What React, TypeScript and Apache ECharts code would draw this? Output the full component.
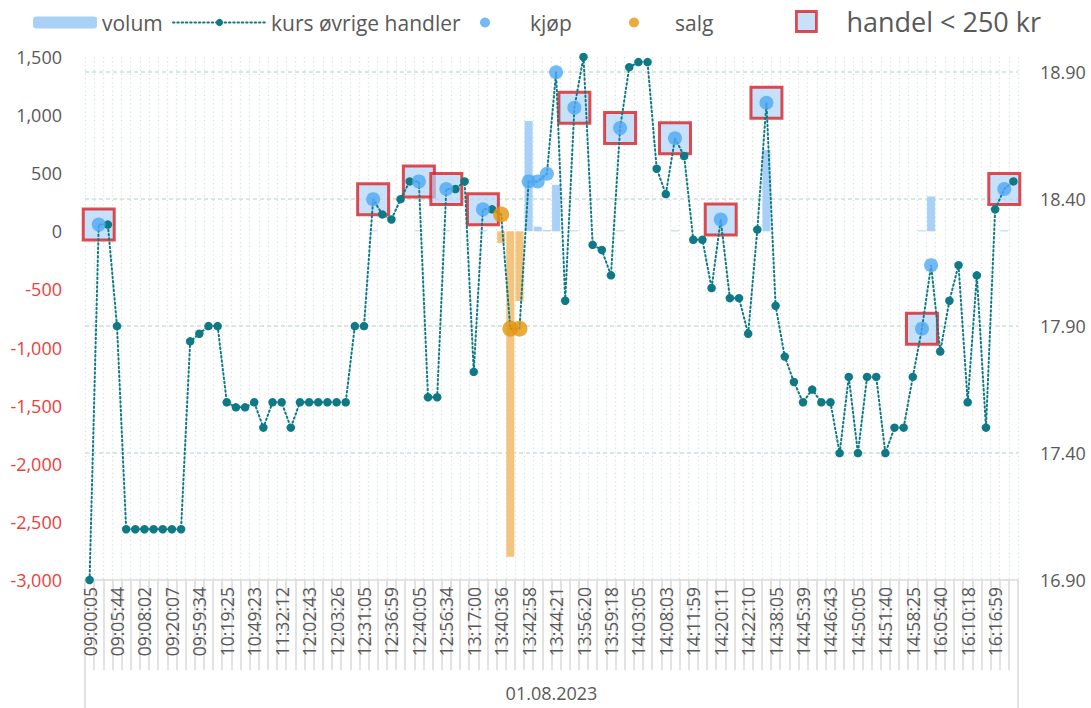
import React, { useEffect, useRef } from "react";
import * as echarts from "echarts";

// Tick labels shown on the category axis (every third trade)
const tickLabels = [
  "09:00:05", "09:05:44", "09:08:02", "09:20:07", "09:59:34", "10:19:25", "10:49:23",
  "11:32:12", "12:02:43", "12:03:26", "12:31:05", "12:36:59", "12:40:05", "12:56:34",
  "13:17:00", "13:40:36", "13:42:58", "13:44:21", "13:56:20", "13:59:18", "14:03:05",
  "14:08:03", "14:11:59", "14:20:11", "14:22:10", "14:38:05", "14:45:39", "14:46:43",
  "14:50:05", "14:51:40", "14:58:25", "16:05:40", "16:10:18", "16:16:59",
];
const dateLabel = "01.08.2023";

// Trade price for every trade (kurs)
const prices = [
  16.90, 18.30, 18.30, 17.90, 17.10, 17.10, 17.10, 17.10, 17.10, 17.10,
  17.10, 17.84, 17.87, 17.90, 17.90, 17.60, 17.58, 17.58, 17.60, 17.50,
  17.60, 17.60, 17.50, 17.60, 17.60, 17.60, 17.60, 17.60, 17.60, 17.90,
  17.90, 18.40, 18.34, 18.32, 18.40, 18.47, 18.47, 17.62, 17.62, 18.44,
  18.44, 18.47, 17.72, 18.36, 18.36, 18.34, 17.89, 17.89, 18.47, 18.47,
  18.50, 18.90, 18.00, 18.76, 18.96, 18.22, 18.20, 18.10, 18.68, 18.92,
  18.94, 18.94, 18.52, 18.42, 18.64, 18.57, 18.24, 18.24, 18.05, 18.32,
  18.01, 18.01, 17.87, 18.28, 18.78, 17.98, 17.78, 17.68, 17.60, 17.65,
  17.60, 17.60, 17.40, 17.70, 17.40, 17.70, 17.70, 17.40, 17.50, 17.50,
  17.70, 17.89, 18.14, 17.80, 18.00, 18.14, 17.60, 18.10, 17.50, 18.36,
  18.44, 18.47,
];

// Trade type: o = øvrige handler, k = kjøp, b = kjøp (handel < 250 kr), s = salg
const tradeTypes = [
  "o", "b", "o", "o", "o", "o", "o", "o", "o", "o",
  "o", "o", "o", "o", "o", "o", "o", "o", "o", "o",
  "o", "o", "o", "o", "o", "o", "o", "o", "o", "o",
  "o", "b", "o", "o", "o", "o", "b", "o", "o", "b",
  "o", "o", "o", "b", "o", "s", "s", "s", "k", "k",
  "k", "k", "o", "b", "o", "o", "o", "o", "b", "o",
  "o", "o", "o", "o", "b", "o", "o", "o", "o", "b",
  "o", "o", "o", "o", "b", "o", "o", "o", "o", "o",
  "o", "o", "o", "o", "o", "o", "o", "o", "o", "o",
  "o", "b", "k", "o", "o", "o", "o", "o", "o", "o",
  "b", "o",
];

// Volume (positive = kjøp, negative = salg)
const volumes = [
  0, 8, 0, 0, 0, 0, 0, 0, 0, 0,
  0, 0, 0, 0, 0, 0, 0, 0, 0, 0,
  0, 0, 0, 0, 0, 0, 0, 0, 0, 0,
  0, 8, 0, 0, 0, 0, 8, 0, 0, 8,
  0, 0, 0, 8, 0, -100, -2800, -600, 950, 40,
  10, 400, 0, 8, 0, 0, 0, 0, 8, 0,
  0, 0, 0, 0, 8, 0, 0, 0, 0, 8,
  0, 0, 0, 0, 700, 0, 0, 0, 0, 0,
  0, 0, 0, 0, 0, 0, 0, 0, 0, 0,
  0, 8, 300, 0, 0, 0, 0, 0, 0, 0,
  8, 0,
];

const volumeTicks = { min: -3000, max: 1500, interval: 500 };
const priceTicks = { min: 16.9, max: 18.96, interval: 0.5 };

const FONT = "Open Sans";
const GREY = "#595959";
const RED = "#E8413C";
const TEAL = "#0F7A86";
const BLUE_DOT = "#4EA9F4";
const ORANGE_DOT = "#E5960E";
const BLUE_BAR = "#A9D0F6";
const ORANGE_BAR = "#F2C47E";
const BOX_FILL = "rgba(176, 213, 248, 0.88)";
const BOX_BORDER = "#DA1F25";

export default function App() {
  const ref = useRef<HTMLDivElement>(null);

  useEffect(() => {
    if (!ref.current) return;
    const chart = echarts.init(ref.current, null, { renderer: "svg" });

    const categories = prices.map((_, i) =>
      i % 3 === 0 ? tickLabels[i / 3] : `${tickLabels[Math.floor(i / 3)]}#${i % 3}`
    );

    const lineData = prices.map((p, i) =>
      tradeTypes[i] === "o" ? p : { value: p, symbol: "none" }
    );
    const buyData = prices.map((p, i) =>
      tradeTypes[i] === "k" || tradeTypes[i] === "b" ? p : "-"
    );
    const sellData = prices.map((p, i) => (tradeTypes[i] === "s" ? p : "-"));
    const smallData = prices.map((p, i) => (tradeTypes[i] === "b" ? p : "-"));
    const barData = volumes.map((v) => ({
      value: v,
      itemStyle: { color: v < 0 ? ORANGE_BAR : BLUE_BAR },
    }));

    const legendText = { fontFamily: FONT, fontSize: 21, color: GREY };
    const legendBase = { top: 12, padding: 0, selectedMode: false };

    chart.setOption({
      animation: false,
      backgroundColor: "#ffffff",
      textStyle: { fontFamily: FONT },
      legend: [
        { ...legendBase, data: ["volum"], left: 33, itemWidth: 64, itemHeight: 12, textStyle: legendText },
        { ...legendBase, data: ["kurs øvrige handler"], left: 172, itemWidth: 93, itemHeight: 9, textStyle: legendText },
        { ...legendBase, data: ["kjøp"], left: 480, itemWidth: 80, itemHeight: 10, textStyle: legendText },
        { ...legendBase, data: ["salg"], left: 629, itemWidth: 72, itemHeight: 10, textStyle: legendText },
        {
          ...legendBase,
          top: 8,
          data: [{ name: "handel < 250 kr", itemStyle: { borderWidth: 2.8, borderColor: BOX_BORDER } }],
          left: 795, itemWidth: 20, itemHeight: 20,
          textStyle: { ...legendText, fontSize: 27, padding: [0, 0, 0, 25] },
        },
      ],
      grid: { left: 85, right: 73, top: 57, bottom: 128 },
      xAxis: [
        {
          type: "category",
          data: categories,
          boundaryGap: true,
          axisLine: { show: true, onZero: false, lineStyle: { color: "#D9D9D9", width: 1.5 } },
          axisTick: { show: true, interval: 0, length: 90, lineStyle: { color: "#D9D9D9", width: 1.5 } },
          axisLabel: {
            interval: 2, rotate: 90, margin: 7, fontSize: 17.5, color: GREY, fontFamily: FONT,
            formatter: (v: string) => v.split("#")[0],
          },
          splitLine: {
            show: true, interval: 0,
            lineStyle: { color: "#CFE7DA", type: [1.2, 3], width: 1.3 },
          },
        },
        {
          type: "category",
          data: [dateLabel],
          position: "bottom",
          offset: 90,
          boundaryGap: true,
          axisLine: { show: false, onZero: false },
          axisTick: { show: true, length: 38, lineStyle: { color: "#D9D9D9", width: 1.5 } },
          axisLabel: { margin: 14, fontSize: 18, color: GREY, fontFamily: FONT },
          splitLine: { show: false },
        },
      ],
      yAxis: [
        {
          type: "value",
          position: "left",
          min: volumeTicks.min,
          max: volumeTicks.max,
          interval: volumeTicks.interval,
          axisLine: { show: false },
          axisTick: { show: false },
          splitLine: { show: false },
          axisLabel: {
            margin: 23, fontSize: 18, fontFamily: FONT,
            formatter: (v: number) => Number(v).toLocaleString("en-US"),
            color: (v: any) => (Number(v) < 0 ? RED : GREY),
          },
        },
        {
          type: "value",
          position: "right",
          min: priceTicks.min,
          max: priceTicks.max,
          interval: priceTicks.interval,
          axisLine: { show: false },
          axisTick: { show: false },
          splitLine: {
            show: true, showMinLine: false, showMaxLine: false,
            lineStyle: { color: "#C7E2D3", type: [4, 3], width: 1.5 },
          },
          axisLabel: {
            margin: 22, fontSize: 18, fontFamily: FONT, color: GREY, showMaxLabel: false,
            formatter: (v: number) => Number(v).toFixed(2),
          },
        },
      ],
      series: [
        {
          name: "volum",
          type: "bar",
          xAxisIndex: 0,
          yAxisIndex: 0,
          data: barData,
          barWidth: "88%",
          itemStyle: { color: BLUE_BAR },
          z: 2,
        },
        {
          name: "handel < 250 kr",
          type: "scatter",
          xAxisIndex: 0,
          yAxisIndex: 1,
          data: smallData,
          symbol: "rect",
          symbolSize: 31,
          itemStyle: { color: BOX_FILL, borderColor: BOX_BORDER, borderWidth: 3 },
          z: 3,
        },
        {
          name: "kurs øvrige handler",
          type: "line",
          xAxisIndex: 0,
          yAxisIndex: 1,
          data: lineData,
          symbol: "circle",
          symbolSize: 8.5,
          showAllSymbol: true,
          lineStyle: { color: TEAL, width: 2, type: [1.5, 2.8], cap: "round" },
          itemStyle: { color: TEAL },
          z: 4,
        },
        {
          name: "kjøp",
          type: "scatter",
          xAxisIndex: 0,
          yAxisIndex: 1,
          data: buyData,
          symbolSize: 14,
          itemStyle: { color: BLUE_DOT },
          z: 5,
        },
        {
          name: "salg",
          type: "scatter",
          xAxisIndex: 0,
          yAxisIndex: 1,
          data: sellData,
          symbolSize: 16,
          itemStyle: { color: ORANGE_DOT },
          z: 5,
        },
      ],
    });

    return () => chart.dispose();
  }, []);

  return (
    <div
      ref={ref}
      style={{ position: "fixed", left: 0, top: 0, width: 1091, height: 708, background: "#fff" }}
    />
  );
}
